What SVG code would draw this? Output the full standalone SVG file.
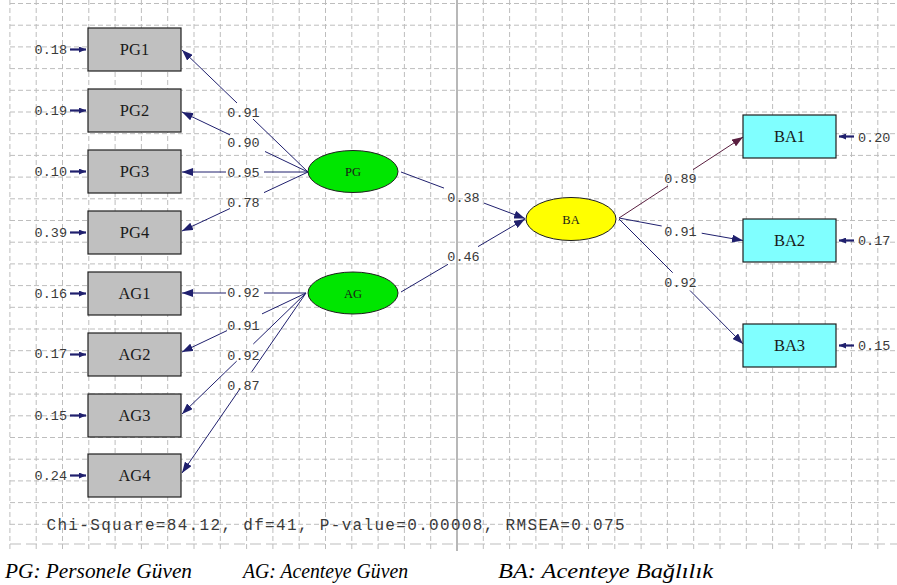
<svg xmlns="http://www.w3.org/2000/svg" width="897" height="585" viewBox="0 0 897 585">
<style>
.grid{fill:none;stroke:#bdbdbd;stroke-width:1;stroke-dasharray:5 3}
.axis{fill:none;stroke:#a0a0a0;stroke-width:1.5}
.obs{fill:#c0c0c0;stroke:#1e1e1e;stroke-width:1.2}
.obsb{fill:#80ffff;stroke:#1e1e1e;stroke-width:1.2}
.lat{fill:#00e600;stroke:#1e1e1e;stroke-width:1}
.laty{fill:#ffff00;stroke:#1e1e1e;stroke-width:1}
.bt{font-family:"Liberation Serif",serif;font-size:16.5px;fill:#1a1a1a;text-anchor:middle}
.et{font-family:"Liberation Serif",serif;font-size:12.5px;fill:#1a1a1a;text-anchor:middle}
.num{font-family:"Liberation Mono",monospace;font-size:13.5px;fill:#3a3a3a}
.mid{text-anchor:middle}
.end{text-anchor:end}
.con{fill:none;stroke:#20206e;stroke-width:1}
.conm{fill:none;stroke:#5a1f40;stroke-width:1}
.err{fill:none;stroke:#20206e;stroke-width:2.2}
.chi{font-family:"Liberation Mono",monospace;font-size:16px;fill:#3a3a3a}
.cap{font-family:"Liberation Serif",serif;font-style:italic;font-size:22px;fill:#000}
</style>
<defs>
<marker id="ah" markerUnits="userSpaceOnUse" markerWidth="12" markerHeight="8" refX="11" refY="4" orient="auto">
<path d="M0 0L11 4L0 8z" fill="#20206e"/>
</marker>
<marker id="ahm" markerUnits="userSpaceOnUse" markerWidth="12" markerHeight="8" refX="11" refY="4" orient="auto">
<path d="M0 0L11 4L0 8z" fill="#5a1f40"/>
</marker>
<marker id="eh" markerUnits="userSpaceOnUse" markerWidth="8" markerHeight="6" refX="7" refY="3" orient="auto">
<path d="M0 0L7 3L0 6z" fill="#20206e"/>
</marker>
</defs>
<rect width="897" height="585" fill="#fff"/>
<g id="grid">
<path class="grid" d="M9.9 0V550M36.2 0V550M62.5 0V550M88.8 0V550M115.1 0V550M141.4 0V550M167.7 0V550M194 0V550M220.3 0V550M246.6 0V550M272.9 0V550M299.2 0V550M325.5 0V550M351.8 0V550M378.1 0V550M404.4 0V550M430.7 0V550M483.3 0V550M509.6 0V550M535.9 0V550M562.2 0V550M588.5 0V550M614.8 0V550M641.1 0V550M667.4 0V550M693.7 0V550M720 0V550M746.3 0V550M772.6 0V550M798.9 0V550M825.2 0V550M851.5 0V550M877.8 0V550"/>
<path class="grid" d="M10 3.5H897M10 25.2H897M10 46.9H897M10 68.6H897M10 90.3H897M10 112H897M10 133.7H897M10 155.4H897M10 177.1H897M10 198.8H897M10 220.5H897M10 242.2H897M10 263.9H897M10 285.6H897M10 307.3H897M10 329H897M10 350.7H897M10 372.4H897M10 394.1H897M10 415.8H897M10 437.5H897M10 459.2H897M10 480.9H897M10 502.6H897M10 524.3H897"/>
<path class="grid" style="stroke-dasharray:11 5" d="M10 544H897"/>
<path class="axis" d="M457 0V551"/>
</g>
<g id="connectors">
<path class="con" d="M308 172L253 119"/><path class="con" d="M237 103L182 50" marker-end="url(#ah)"/>
<path class="con" d="M308 172L265 151.5"/><path class="con" d="M230 134.9L182 112" marker-end="url(#ah)"/>
<path class="con" d="M308 172L264 172"/><path class="con" d="M226 172L182 172" marker-end="url(#ah)"/>
<path class="con" d="M308 172L264 192.6"/><path class="con" d="M230 208.5L182 231" marker-end="url(#ah)"/>
<path class="con" d="M306 293L264 293"/><path class="con" d="M226 293L182 293" marker-end="url(#ah)"/>
<path class="con" d="M306 293L262 313.9"/><path class="con" d="M227 330.6L182 352" marker-end="url(#ah)"/>
<path class="con" d="M306 293L253.3 344"/><path class="con" d="M236.7 361.1L182 414" marker-end="url(#ah)"/>
<path class="con" d="M306 293L251.7 371.8"/><path class="con" d="M239.3 389.8L182 473" marker-end="url(#ah)"/>
<path class="con" d="M401 172L444 188.1"/><path class="con" d="M484 203.1L525 218.5" marker-end="url(#ah)"/>
<path class="con" d="M401 292L448 264.3"/><path class="con" d="M478 246.6L525 219" marker-end="url(#ah)"/>
<path class="conm" d="M619 218L668 186"/><path class="conm" d="M693 169.7L743 137" marker-end="url(#ahm)"/>
<path class="con" d="M619 218L661.7 226"/><path class="con" d="M701.7 233.2L743 240.5" marker-end="url(#ah)"/>
<path class="con" d="M619 219L672.7 272.7"/><path class="con" d="M690 290.5L743 344" marker-end="url(#ah)"/>
<path class="err" d="M70 49.5H86" marker-end="url(#eh)"/>
<path class="err" d="M70 110.5H86" marker-end="url(#eh)"/>
<path class="err" d="M70 171.5H86" marker-end="url(#eh)"/>
<path class="err" d="M70 232.5H86" marker-end="url(#eh)"/>
<path class="err" d="M70 293.5H86" marker-end="url(#eh)"/>
<path class="err" d="M70 354.5H86" marker-end="url(#eh)"/>
<path class="err" d="M70 415.5H86" marker-end="url(#eh)"/>
<path class="err" d="M70 475.5H86" marker-end="url(#eh)"/>
<path class="err" d="M854 136.5H839" marker-end="url(#eh)"/>
<path class="err" d="M854 240.5H839" marker-end="url(#eh)"/>
<path class="err" d="M854 345.5H839" marker-end="url(#eh)"/>
</g>
<g id="PG1"><rect class="obs" x="88" y="28" width="93" height="43"/><text class="bt" x="134.5" y="55">PG1</text><text class="num end" x="67" y="54">0.18</text></g>
<g id="PG2"><rect class="obs" x="88" y="89" width="93" height="43"/><text class="bt" x="134.5" y="116">PG2</text><text class="num end" x="67" y="115">0.19</text></g>
<g id="PG3"><rect class="obs" x="88" y="150" width="93" height="43"/><text class="bt" x="134.5" y="177">PG3</text><text class="num end" x="67" y="176">0.10</text></g>
<g id="PG4"><rect class="obs" x="88" y="211" width="93" height="43"/><text class="bt" x="134.5" y="238">PG4</text><text class="num end" x="67" y="237">0.39</text></g>
<g id="AG1"><rect class="obs" x="88" y="272" width="93" height="43"/><text class="bt" x="134.5" y="299">AG1</text><text class="num end" x="67" y="298">0.16</text></g>
<g id="AG2"><rect class="obs" x="88" y="333" width="93" height="43"/><text class="bt" x="134.5" y="360">AG2</text><text class="num end" x="67" y="358">0.17</text></g>
<g id="AG3"><rect class="obs" x="88" y="394" width="93" height="43"/><text class="bt" x="134.5" y="421">AG3</text><text class="num end" x="67" y="419.5">0.15</text></g>
<g id="AG4"><rect class="obs" x="88" y="454" width="93" height="43"/><text class="bt" x="134.5" y="481">AG4</text><text class="num end" x="67" y="480">0.24</text></g>
<g id="BA1"><rect class="obsb" x="743" y="115" width="93" height="43"/><text class="bt" x="789.5" y="142">BA1</text><text class="num" x="858" y="142">0.20</text></g>
<g id="BA2"><rect class="obsb" x="743" y="219" width="93" height="43"/><text class="bt" x="789.5" y="246">BA2</text><text class="num" x="858" y="245">0.17</text></g>
<g id="BA3"><rect class="obsb" x="743" y="324" width="93" height="43"/><text class="bt" x="789.5" y="351">BA3</text><text class="num" x="858" y="350">0.15</text></g>
<g id="PG"><ellipse class="lat" cx="353" cy="171.5" rx="45" ry="21"/><text class="et" x="353" y="176">PG</text></g>
<g id="AG"><ellipse class="lat" cx="353" cy="293" rx="45" ry="21"/><text class="et" x="353" y="297.5">AG</text></g>
<g id="BA"><ellipse class="laty" cx="571" cy="219" rx="45" ry="21.5"/><text class="et" x="571" y="223.5">BA</text></g>
<g id="coefficients">
<text class="num mid" x="243.5" y="116.5">0.91</text>
<text class="num mid" x="243.5" y="147">0.90</text>
<text class="num mid" x="243.5" y="176.5">0.95</text>
<text class="num mid" x="243.5" y="206.5">0.78</text>
<text class="num mid" x="243.5" y="297">0.92</text>
<text class="num mid" x="243.5" y="329.5">0.91</text>
<text class="num mid" x="243.5" y="359.5">0.92</text>
<text class="num mid" x="243.5" y="389.5">0.87</text>
<text class="num mid" x="463.5" y="201.5">0.38</text>
<text class="num mid" x="463.5" y="261">0.46</text>
<text class="num mid" x="680.5" y="182.5">0.89</text>
<text class="num mid" x="680.5" y="235.5">0.91</text>
<text class="num mid" x="680.5" y="286.5">0.92</text>
</g>
<text class="chi" x="46.5" y="529.5" textLength="578" lengthAdjust="spacing">Chi-Square=84.12, df=41, P-value=0.00008, RMSEA=0.075</text>
<text class="cap" x="5" y="578" textLength="187" lengthAdjust="spacingAndGlyphs">PG: Personele Güven</text>
<text class="cap" x="243" y="578" textLength="165" lengthAdjust="spacingAndGlyphs">AG: Acenteye Güven</text>
<text class="cap" x="498" y="578" textLength="215" lengthAdjust="spacingAndGlyphs">BA: Acenteye Bağlılık</text>
</svg>
